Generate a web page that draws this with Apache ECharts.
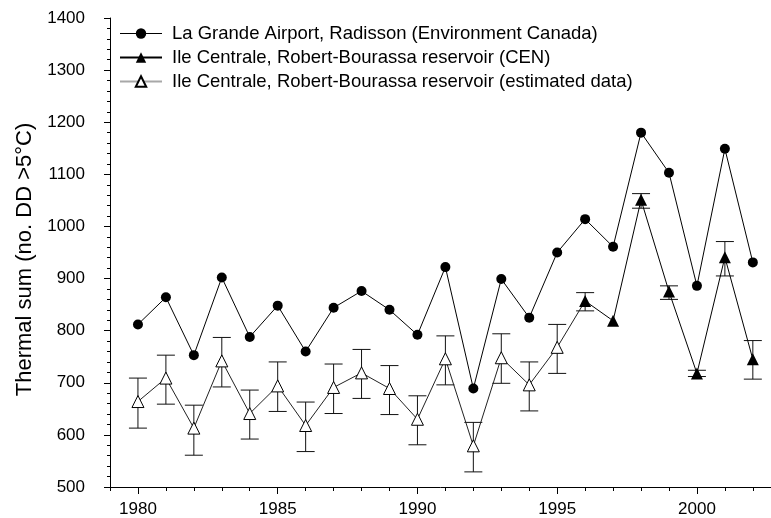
<!DOCTYPE html>
<html>
<head>
<meta charset="utf-8">
<script src="https://cdn.jsdelivr.net/npm/echarts@6/dist/echarts.min.js"></script>
<style>
  html, body { margin: 0; padding: 0; background: #fff; }
  #chart { width: 771px; height: 518px; }
</style>
</head>
<body>
<div id="chart"></div>
<script>
// La Grande Airport, Radisson (Environment Canada)
var laGrandeYears = [1980, 1981, 1982, 1983, 1984, 1985, 1986, 1987, 1988, 1989, 1990, 1991,
  1992, 1993, 1994, 1995, 1996, 1997, 1998, 1999, 2000, 2001, 2002]
var laGrande = [812, 864, 753, 902, 788, 848, 760, 844, 876, 840, 792, 922,
  689, 899, 825, 950, 1014, 961, 1180, 1103, 886, 1149, 931]

// Ile Centrale, Robert-Bourassa reservoir (CEN)
var cenYears = [1996, 1997, 1998, 1999, 2000, 2001, 2002]
var cen = [857, 819, 1051, 875, 718, 941, 745]
var cenLow = [838, null, 1035, 860, 712, 905, 707]
var cenHigh = [873, null, 1063, 886, 724, 971, 781]

// Ile Centrale, Robert-Bourassa reservoir (estimated data)
var estYears = [1980, 1981, 1982, 1983, 1984, 1985, 1986, 1987, 1988, 1989, 1990, 1991,
  1992, 1993, 1994, 1995]
var est = [664, 709, 613, 742, 641, 694, 618, 691, 719, 689, 630, 746, 579, 748, 696, 768]
var estLow = [613, 659, 561, 692, 592, 645, 568, 641, 670, 639, 581, 696, 529, 699, 646, 718]
var estHigh = [709, 753, 657, 787, 686, 740, 663, 736, 764, 733, 675, 790, 624, 794, 740, 812]

var yearTicks = []
for (var y = 1979; y <= 2002; y++) yearTicks.push(y)
var yearLabels = [1980, 1985, 1990, 1995, 2000]

var names = [
  'La Grande Airport, Radisson (Environment Canada)',
  'Ile Centrale, Robert-Bourassa reservoir (CEN)',
  'Ile Centrale, Robert-Bourassa reservoir (estimated data)'
]

function pairs (xs, ys) {
  var out = []
  for (var i = 0; i < xs.length; i++) out.push([xs[i], ys[i]])
  return out
}

var errData = []
for (var i = 0; i < estYears.length; i++) errData.push([estYears[i], estLow[i], estHigh[i]])
for (var j = 0; j < cenYears.length; j++) {
  if (cenLow[j] != null) errData.push([cenYears[j], cenLow[j], cenHigh[j]])
}

// estimated line joins the first measured CEN point
var estLine = pairs(estYears, est)
estLine.push({ value: [cenYears[0], cen[0]], symbol: 'none' })

var font = 'Liberation Sans, Arial, sans-serif'
var plain = function (v) { return String(v) }
var chart = echarts.init(document.getElementById('chart'))

chart.setOption({
  animation: false,
  backgroundColor: '#fff',
  grid: { left: 110, top: 18, right: 0, bottom: 31 },
  legend: {
    orient: 'vertical',
    left: 114,
    top: 19,
    itemWidth: 42,
    itemHeight: 13,
    itemGap: 5,
    textStyle: { fontFamily: font, fontSize: 18.5, color: '#000', padding: [0, 0, 0, 5] },
    data: [
      { name: names[0], lineStyle: { color: '#000', width: 1 } },
      { name: names[1], lineStyle: { color: '#000', width: 2 } },
      { name: names[2], lineStyle: { color: '#a8a8a8', width: 2 } }
    ]
  },
  xAxis: [{
    type: 'value',
    min: 1979,
    max: 2002.65,
    axisLine: { lineStyle: { color: '#000' } },
    axisTick: { customValues: yearTicks, length: 4, lineStyle: { color: '#000' } },
    axisLabel: { customValues: yearLabels, margin: 14, formatter: plain, fontFamily: font, fontSize: 17, color: '#000' },
    splitLine: { show: false }
  }, {
    // longer ticks at the labelled years
    type: 'value',
    position: 'bottom',
    min: 1979,
    max: 2002.65,
    axisLine: { show: false },
    axisTick: { customValues: yearLabels, length: 7, lineStyle: { color: '#000' } },
    axisLabel: { show: false },
    splitLine: { show: false }
  }],
  yAxis: {
    type: 'value',
    min: 500,
    max: 1400,
    interval: 100,
    name: 'Thermal sum (no. DD >5°C)',
    nameLocation: 'middle',
    nameGap: 60,
    nameTextStyle: { fontFamily: font, fontSize: 22, color: '#000', padding: [0, 14, 0, 0] },
    axisLine: { show: true, lineStyle: { color: '#000' } },
    axisTick: { show: true, length: 6, lineStyle: { color: '#000' } },
    minorTick: { show: true, splitNumber: 5, length: 3, lineStyle: { color: '#000' } },
    axisLabel: { margin: 25, formatter: plain, fontFamily: font, fontSize: 17, color: '#000' },
    splitLine: { show: false }
  },
  series: [
    {
      name: 'errors',
      type: 'custom',
      silent: true,
      z: 1,
      data: errData,
      encode: { x: 0, y: [1, 2] },
      renderItem: function (params, api) {
        var x = api.value(0)
        var lo = api.coord([x, api.value(1)])
        var hi = api.coord([x, api.value(2)])
        var w = 9
        var st = { stroke: '#111', lineWidth: 1 }
        return {
          type: 'group',
          children: [
            { type: 'line', shape: { x1: lo[0], y1: lo[1], x2: hi[0], y2: hi[1] }, style: st },
            { type: 'line', shape: { x1: lo[0] - w, y1: lo[1], x2: lo[0] + w, y2: lo[1] }, style: st },
            { type: 'line', shape: { x1: hi[0] - w, y1: hi[1], x2: hi[0] + w, y2: hi[1] }, style: st }
          ]
        }
      }
    },
    {
      name: names[0],
      type: 'line',
      z: 3,
      data: pairs(laGrandeYears, laGrande),
      symbol: 'circle',
      symbolSize: 10,
      showAllSymbol: true,
      lineStyle: { color: '#000', width: 1 },
      itemStyle: { color: '#000' }
    },
    {
      name: names[1],
      type: 'line',
      z: 3,
      data: pairs(cenYears, cen),
      symbol: 'triangle',
      symbolSize: 12,
      showAllSymbol: true,
      lineStyle: { color: '#000', width: 1 },
      itemStyle: { color: '#000' }
    },
    {
      name: names[2],
      type: 'line',
      z: 2,
      data: estLine,
      symbol: 'triangle',
      symbolSize: 12,
      showAllSymbol: true,
      lineStyle: { color: '#222', width: 1 },
      itemStyle: { color: '#fff', borderColor: '#000', borderWidth: 1 }
    }
  ]
})
</script>
</body>
</html>
